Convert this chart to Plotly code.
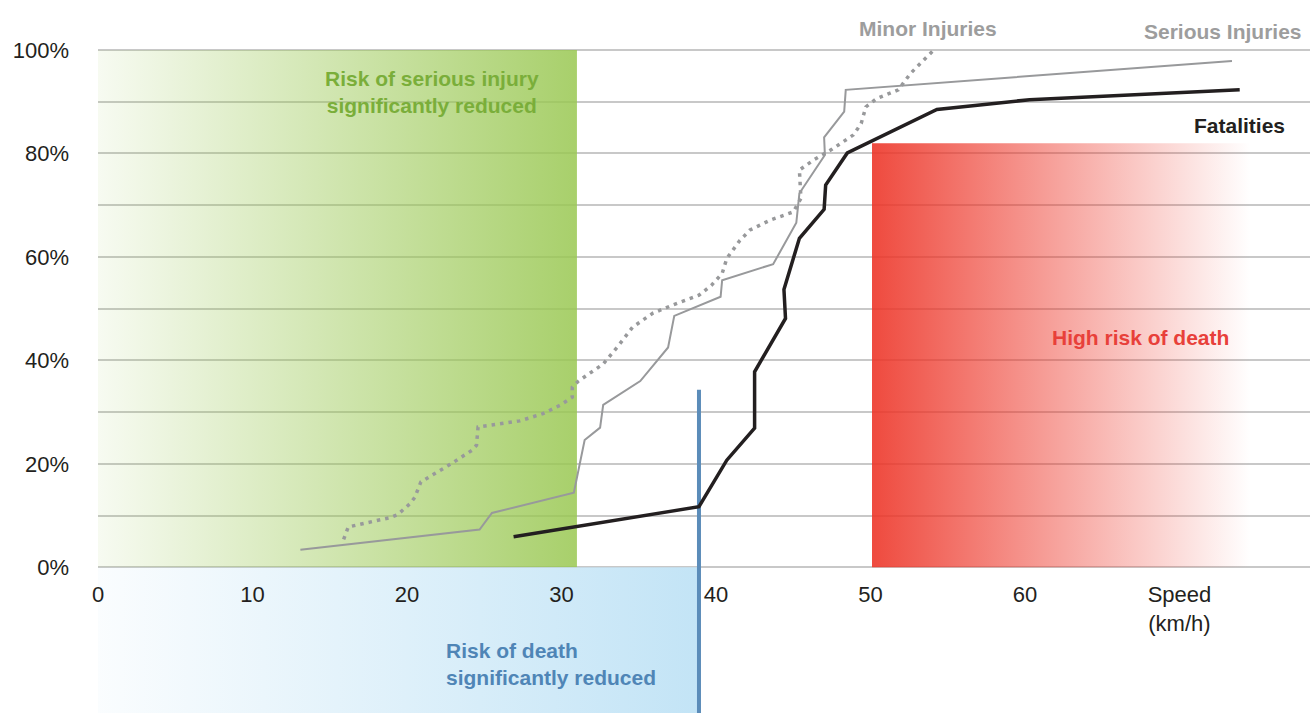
import plotly.graph_objects as go

# ---- data ----
speed_ticks = [0, 10, 20, 30, 40, 50, 60, 70]
speed_tick_labels = ["0", "10", "20", "30", "40", "50", "60", "Speed<br>(km/h)"]
pct_ticks = [0, 10, 20, 30, 40, 50, 60, 70, 80, 90, 100]
pct_tick_labels = ["0%", "", "20%", "", "40%", "", "60%", "", "80%", "", "100%"]

minor_speed = [15.9, 16.2, 18.9, 19.4, 20.2, 20.5, 20.9, 21.8, 22.8, 24.2, 24.5, 24.6,
               27.3, 28.8, 29.9, 30.7, 30.7, 31.1, 32.7, 33.7, 34.6, 35.9, 37.2, 38.9,
               39.7, 40.4, 40.7, 41.55, 42.2, 43.5, 45.0, 45.5, 45.4, 46.3, 47.5, 48.9,
               49.4, 49.7, 50.4, 51.8, 52.6, 54.2]
minor_pct = [5.4, 7.8, 9.6, 10.2, 12.3, 13.5, 16.5, 18.1, 19.9, 22.6, 23.6, 27.1,
             28.3, 29.7, 31.3, 32.9, 34.8, 36.0, 39.3, 42.9, 46.4, 49.1, 50.7, 52.6,
             54.5, 56.8, 59.7, 63.2, 65.2, 67.1, 68.7, 71.3, 76.8, 78.7, 80.8, 83.6,
             85.8, 89.0, 90.6, 92.3, 95.5, 100.3]

serious_speed = [13.1, 24.7, 25.5, 30.8, 31.5, 32.5, 32.7, 35.1, 36.9, 37.3, 40.3, 40.4,
                 43.7, 45.2, 45.4, 47.05, 47.0, 48.3, 48.4, 73.4]
serious_pct = [3.4, 7.3, 10.5, 14.4, 24.6, 27.0, 31.4, 36.0, 42.5, 48.6, 52.3, 55.5,
               58.6, 66.6, 72.3, 79.7, 83.1, 88.1, 92.3, 97.9]

fatal_speed = [26.9, 38.9, 40.7, 42.5, 42.5, 44.5, 44.4, 45.0, 45.4, 47.0, 47.1, 48.5,
               54.3, 60.3, 73.9]
fatal_pct = [5.9, 11.7, 20.7, 26.9, 37.8, 48.1, 53.7, 59.4, 63.6, 69.2, 73.9, 80.1,
             88.5, 90.4, 92.3]

# zones: [speed from, speed to], [pct from, pct to]
serious_zone_speed = [0, 31.0]
serious_zone_pct = [0, 100]
death_zone_speed = [0, 38.8]
death_zone_pct = [-28.2, 0]
high_zone_speed = [50.1, 74.6]
high_zone_pct = [0, 82.0]
death_line_speed = 38.9
death_line_pct = [-28.2, 34.3]

X_RANGE = [0, 78.45]
Y_RANGE = [-28.17, 109.67]

FONT = "Liberation Sans, Arial, Helvetica, sans-serif"
GRAY = "#98999b"
BLACK = "#231f20"


def rect(xs, ys):
    return [xs[0], xs[1], xs[1], xs[0], xs[0]], [ys[0], ys[0], ys[1], ys[1], ys[0]]


fig = go.Figure()

# shaded zones with horizontal gradients
gx, gy = rect(serious_zone_speed, serious_zone_pct)
fig.add_trace(go.Scatter(
    x=gx, y=gy, mode="lines", line=dict(width=0), fill="toself",
    fillgradient=dict(type="horizontal",
                      colorscale=[[0, "rgba(154,200,83,0.08)"], [1, "rgba(154,200,83,0.86)"]]),
    hoverinfo="skip", showlegend=False))

bx, by = rect(death_zone_speed, death_zone_pct)
fig.add_trace(go.Scatter(
    x=bx, y=by, mode="lines", line=dict(width=0), fill="toself",
    fillgradient=dict(type="horizontal",
                      colorscale=[[0, "rgba(195,228,246,0.08)"], [1, "rgba(195,228,246,1)"]]),
    hoverinfo="skip", showlegend=False))

rx, ry = rect(high_zone_speed, high_zone_pct)
fig.add_trace(go.Scatter(
    x=rx, y=ry, mode="lines", line=dict(width=0), fill="toself",
    fillgradient=dict(type="horizontal",
                      colorscale=[[0, "rgba(237,54,41,0.9)"], [1, "rgba(237,54,41,0.0)"]]),
    hoverinfo="skip", showlegend=False))

# death threshold line
fig.add_trace(go.Scatter(
    x=[death_line_speed, death_line_speed], y=death_line_pct, mode="lines",
    line=dict(color="#5b8cb9", width=4), hoverinfo="skip", showlegend=False))

# curves
fig.add_trace(go.Scatter(x=minor_speed, y=minor_pct, mode="lines", name="Minor Injuries",
                         line=dict(color=GRAY, width=3.5, dash="3.5px,5px"), showlegend=False))
fig.add_trace(go.Scatter(x=serious_speed, y=serious_pct, mode="lines", name="Serious Injuries",
                         line=dict(color=GRAY, width=2), showlegend=False))
fig.add_trace(go.Scatter(x=fatal_speed, y=fatal_pct, mode="lines", name="Fatalities",
                         line=dict(color=BLACK, width=3.5), showlegend=False))

# text labels
def label(text, x, y, color, xanchor="center", align="center"):
    fig.add_annotation(x=x, y=y, text=text, showarrow=False, xanchor=xanchor, yanchor="middle",
                       align=align, font=dict(family=FONT, size=21, color=color, weight="bold"))

label("Risk of serious injury<br>significantly reduced", 21.6, 91.8, "#7aae3a")
label("Risk of death<br>significantly reduced", 22.37, -18.6, "#4f85b6", xanchor="left", align="left")
label("High risk of death", 67.5, 44.5, "#e8403a")
label("Minor Injuries", 53.7, 104.2, "#9d9d9d")
label("Serious Injuries", 72.8, 103.5, "#9d9d9d")
label("Fatalities", 73.9, 85.5, BLACK)

fig.update_layout(
    width=1310, height=713,
    margin=dict(l=98, r=0, t=0, b=0),
    paper_bgcolor="white", plot_bgcolor="white",
    font=dict(family=FONT, size=22, color=BLACK),
    xaxis=dict(range=X_RANGE, tickvals=speed_ticks, ticktext=speed_tick_labels,
               anchor="free", position=(0 - Y_RANGE[0]) / (Y_RANGE[1] - Y_RANGE[0]),
               showgrid=False, zeroline=False, showline=False, ticks="",
               ticklabelstandoff=12, tickfont=dict(size=22, color=BLACK)),
    yaxis=dict(range=Y_RANGE, tickvals=pct_ticks, ticktext=pct_tick_labels,
               showgrid=True, gridcolor="#c8c8c8", gridwidth=2, zeroline=False,
               showline=False, ticks="", ticklabelstandoff=28,
               tickfont=dict(size=22, color=BLACK)),
)

fig.write_html("out.html", config={"displayModeBar": False},
               post_script="document.body.style.margin='0';")
